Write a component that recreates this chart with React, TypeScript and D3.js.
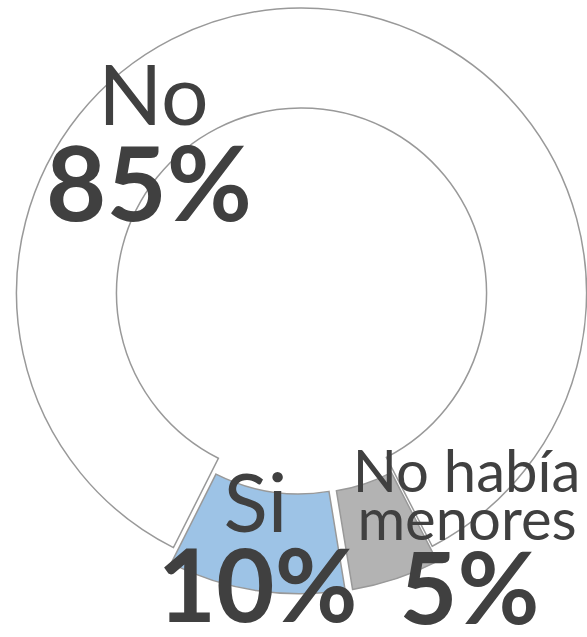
import React from "react";
import * as d3 from "d3";

const categories = ["Si", "No", "No había menores"];
const values = [10, 85, 5];
const percentLabels = ["10%", "85%", "5%"];
const fills = ["#9DC3E6", "#FFFFFF", "#B3B3B3"];
const exploded = [true, false, true];

const W = 587;
const H = 637;
const cx = 301.5;
const cy = 293;
const R = 285;
const r0 = 185;
const startDeg = 170.7;
const explode = 16;

export default function App() {
  const pie = d3
    .pie<number>()
    .sort(null)
    .value((d) => d)
    .startAngle((startDeg * Math.PI) / 180)
    .endAngle(((startDeg + 360) * Math.PI) / 180);
  const arcs = pie(values);
  const arcGen = d3.arc<d3.PieArcDatum<number>>().innerRadius(r0).outerRadius(R);

  const textColor = "#404040";
  const font = "Lato, 'Open Sans', sans-serif";

  return (
    <svg
      width={W}
      height={H}
      style={{ position: "absolute", left: 0, top: 0, background: "#fff" }}
    >
      <g transform={`translate(${cx},${cy})`}>
        {arcs.map((a, i) => {
          const mid = (a.startAngle + a.endAngle) / 2;
          const dx = exploded[i] ? Math.sin(mid) * explode : 0;
          const dy = exploded[i] ? -Math.cos(mid) * explode : 0;
          return (
            <path
              key={categories[i]}
              d={arcGen(a) || ""}
              transform={`translate(${dx},${dy})`}
              fill={fills[i]}
              stroke="#999999"
              strokeWidth={1.5}
            />
          );
        })}
      </g>
      <g fill={textColor} fontFamily={font} textAnchor="middle">
        <text x={153.5} y={125} fontSize={84}>{categories[1]}</text>
        <text x={149} y={221} fontSize={104} fontWeight="bold">{percentLabels[1]}</text>
        <text x={255.5} y={532} fontSize={82}>{categories[0]}</text>
        <text x={257.5} y={622} fontSize={101} fontWeight="bold">{percentLabels[0]}</text>
        <text x={466.5} y={492} fontSize={58}>No había</text>
        <text x={467} y={540} fontSize={58}>menores</text>
        <text x={469.5} y={624} fontSize={100} fontWeight="bold">{percentLabels[2]}</text>
      </g>
    </svg>
  );
}
